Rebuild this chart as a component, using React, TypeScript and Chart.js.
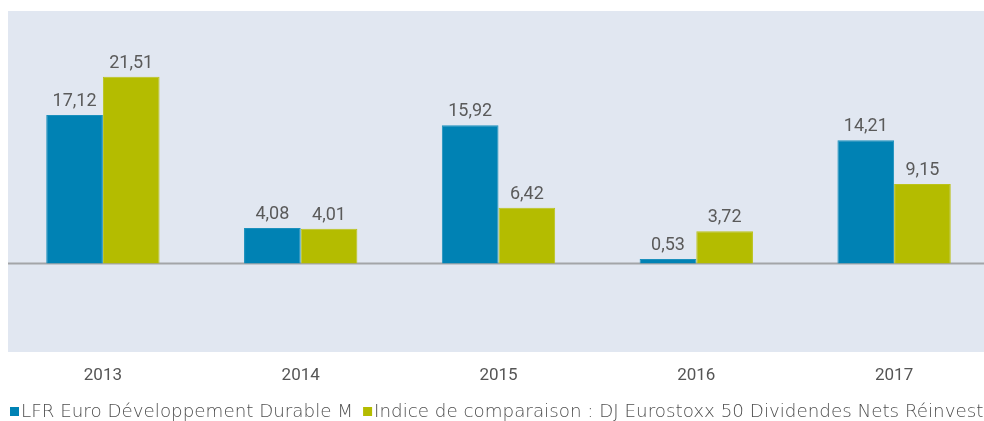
import React, { useEffect, useRef } from "react";
import { Chart, registerables } from "chart.js";

Chart.register(...registerables);

const categories = ["2013", "2014", "2015", "2016", "2017"];
const fundValues = [17.12, 4.08, 15.92, 0.53, 14.21];
const indexValues = [21.51, 4.01, 6.42, 3.72, 9.15];
const seriesNames = [
  "LFR Euro Développement Durable M",
  "Indice de comparaison : DJ Eurostoxx 50 Dividendes Nets Réinvestis",
];
const seriesColors = ["#0082b4", "#b4bc00"];
const yMin = -10.2;
const yMax = 29.1;

const fmt = (v: number) => v.toFixed(2).replace(".", ",");

const bgPlugin = {
  id: "bgPlugin",
  beforeDraw(chart: any) {
    const { ctx, chartArea } = chart;
    ctx.save();
    ctx.fillStyle = "#e1e7f1";
    ctx.fillRect(chartArea.left, chartArea.top, chartArea.right - chartArea.left, chartArea.bottom - chartArea.top);
    ctx.restore();
  },
  beforeDatasetsDraw(chart: any) {
    const { ctx, chartArea, scales } = chart;
    const y = scales.y.getPixelForValue(0);
    ctx.save();
    ctx.strokeStyle = "#a3a5a8";
    ctx.lineWidth = 2;
    ctx.beginPath();
    ctx.moveTo(chartArea.left, y);
    ctx.lineTo(chartArea.right, y);
    ctx.stroke();
    ctx.restore();
  },
};

const labelPlugin = {
  id: "labelPlugin",
  afterDatasetsDraw(chart: any) {
    const { ctx } = chart;
    ctx.save();
    ctx.font = "18px Roboto";
    ctx.fillStyle = "#5a5a5a";
    ctx.textAlign = "center";
    ctx.textBaseline = "alphabetic";
    chart.data.datasets.forEach((ds: any, i: number) => {
      const meta = chart.getDatasetMeta(i);
      meta.data.forEach((el: any, j: number) => {
        ctx.fillText(fmt(ds.data[j]), el.x, el.y - 9);
      });
    });
    ctx.restore();
  },
};

const legendPlugin = {
  id: "legendPlugin",
  afterDraw(chart: any) {
    const { ctx } = chart;
    ctx.save();
    ctx.font = "200 18.3px 'DejaVu Sans'";
    ctx.textBaseline = "alphabetic";
    ctx.textAlign = "left";
    let x = 6;
    const cy = 403.5;
    chart.data.datasets.forEach((ds: any) => {
      ctx.fillStyle = ds.backgroundColor;
      ctx.fillRect(x, cy - 4.5, 9, 9);
      ctx.fillStyle = "#4f4f4f";
      ctx.fillText(ds.label, x + 11, cy + 5);
      x += 11 + ctx.measureText(ds.label).width + 10;
    });
    ctx.restore();
  },
};

export default function App() {
  const ref = useRef<HTMLCanvasElement>(null);
  useEffect(() => {
    if (!ref.current) return;
    const chart = new Chart(ref.current, {
      type: "bar",
      data: {
        labels: categories,
        datasets: [
          {
            label: seriesNames[0],
            data: fundValues,
            backgroundColor: seriesColors[0],
            borderColor: "#1b90bd",
            borderWidth: 1,
            categoryPercentage: 0.573,
            barPercentage: 1,
          },
          {
            label: seriesNames[1],
            data: indexValues,
            backgroundColor: seriesColors[1],
            borderColor: "#bcc31a",
            borderWidth: 1,
            categoryPercentage: 0.573,
            barPercentage: 1,
          },
        ],
      },
      options: {
        responsive: false,
        animation: false,
        devicePixelRatio: 1,
        layout: { padding: { top: 3, bottom: 29, left: 0, right: 0 } },
        plugins: {
          legend: { display: false },
          tooltip: { enabled: false },
        },
        scales: {
          x: {
            grid: { display: false },
            border: { display: false },
            ticks: {
              font: { family: "Roboto", size: 17 },
              color: "#555555",
              padding: 5.8,
            },
          },
          y: { display: false, min: yMin, max: yMax },
        },
      },
      plugins: [bgPlugin, labelPlugin, legendPlugin],
    });
    return () => chart.destroy();
  }, []);
  return (
    <div style={{ position: "fixed", left: 8, top: 8, width: 976, height: 413, overflow: "hidden" }}>
      <canvas
        ref={ref}
        width={989}
        height={413}
        style={{ position: "absolute", left: -4, top: 0, width: 989, height: 413 }}
      />
    </div>
  );
}
